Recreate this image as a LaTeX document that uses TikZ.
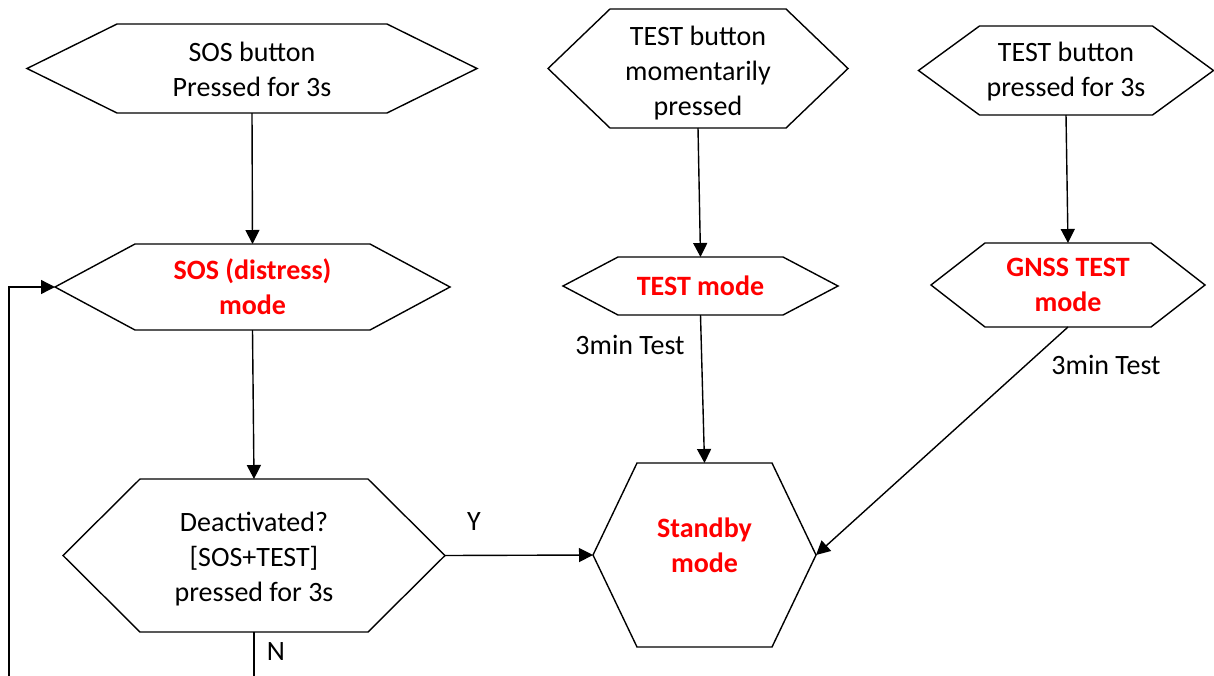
\documentclass[tikz,border=0pt]{standalone}
\usepackage{fontspec}
\setmainfont{Carlito}
\usepackage{tikz}
\usetikzlibrary{arrows.meta,positioning}
\newcommand{\flowfont}{\fontsize{14}{17.5}\selectfont}
\newcommand{\liftlines}[2]{\raisebox{#1}[\height][\depth]{\parbox{3cm}{\centering #2}}}
\tikzset{%
	hexnode/.style={align=center, inner sep=0pt, outer sep=0pt, font=\flowfont},
	modenode/.style={hexnode, text=red, font=\flowfont\bfseries},
	hexline/.style={draw=black, line width=0.7pt, line join=miter},
	pt/.style={draw=black, line width=0.7pt, -{Triangle[length=7pt,width=7pt]}},
	lbl/.style={inner sep=0pt, font=\flowfont}
}

\begin{document}
\begin{tikzpicture}[x=0.5pt, y=-0.5pt]
			\useasboundingbox (0,0) rectangle (1214,675);
			% triggers
			\node[hexnode, minimum width=225pt, minimum height=44.5pt] (sosbtn) at (252,68.5) {\liftlines{-0.5pt}{SOS button\\Pressed for 3s}};
			\node[hexnode, minimum width=150pt, minimum height=59.5pt] (testbtn) at (698,68.5) {\liftlines{-2.5pt}{TEST button\\momentarily\\pressed}};
			\node[hexnode, minimum width=147.5pt, minimum height=44.5pt] (testlong) at (1066,70.5) {\liftlines{-0.5pt}{TEST button\\pressed for 3s}};
			% modes
			\node[modenode, minimum width=197.5pt, minimum height=43pt] (sosmode) at (252.5,287) {SOS (distress)\\mode};
			\node[modenode, minimum width=137.5pt, minimum height=29pt] (testmode) at (700.5,286) {TEST mode};
			\node[modenode, minimum width=137pt, minimum height=42pt] (gnssmode) at (1068,285) {GNSS TEST\\mode};
			\node[hexnode, minimum width=191pt, minimum height=76.5pt] (deact) at (254,555.5) {\liftlines{-2pt}{Deactivated?\\{[SOS+TEST]}\\pressed for 3s}};
			\node[modenode, minimum width=111.5pt, minimum height=92pt] (standby) at (704.5,555) {\liftlines{5pt}{Standby\\mode}};
			
			% hexagon outlines
			\foreach \n/\i in {sosbtn/45, testbtn/31, testlong/30.5, sosmode/40, testmode/27.5, gnssmode/27, deact/38.5, standby/22}
				\draw[hexline] (\n.west) -- ([xshift=\i pt]\n.north west) -- ([xshift=-\i pt]\n.north east) -- (\n.east) -- ([xshift=-\i pt]\n.south east) -- ([xshift=\i pt]\n.south west) -- cycle;
			
			% labels
			\node[lbl] (testtime) at (630,345) {3min Test};
			\node[lbl] (gnsstime) at (1106,365) {3min Test};
			\node[lbl] (yes) at (474,522) {Y};
			\node[lbl] (no) at (276,652) {N};
			
			\coordinate (retn) at (9,700);
			
			\draw[pt] (sosbtn.south) -- (sosmode.north);
			\draw[pt] (testbtn.south) -- (testmode.north);
			\draw[pt] (testlong.south) -- (gnssmode.north);
			\draw[pt] (sosmode.south) -- (deact.north);
			\draw[pt] (testmode.south) -- (standby.north);
			\draw[pt] (gnssmode.south) -- (standby.east);
			\draw[pt] (deact.east) -- (standby.west);
			\draw[pt] (deact.south) |- (retn) |- (sosmode.west);
			
\end{tikzpicture}
\end{document}
